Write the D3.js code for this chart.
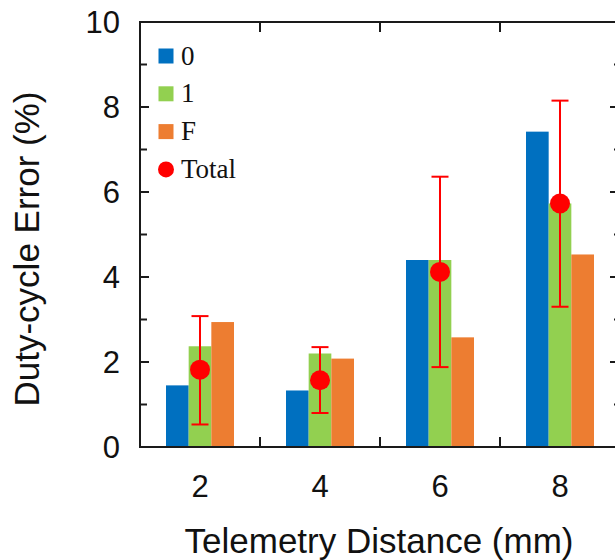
<!DOCTYPE html>
<html><head><meta charset="utf-8">
<script src="https://cdn.jsdelivr.net/npm/d3@7"></script>
<style>body{margin:0;background:#fff}svg{display:block}</style>
</head><body>
<script>
const categories = ["2","4","6","8"];
const seriesNames = ["0","1","F"];
const series0 = [1.45, 1.33, 4.40, 7.42];
const series1 = [2.37, 2.20, 4.40, 5.73];
const seriesF = [2.94, 2.08, 2.58, 4.53];
const totalMean = [1.82, 1.57, 4.12, 5.73];
const totalUpper = [3.08, 2.35, 6.36, 8.15];
const totalLower = [0.53, 0.80, 1.88, 3.30];
const yMajorTicks = [0, 2, 4, 6, 8, 10];
const yMinorTicks = [1, 3, 5, 7, 9];
const colors = ["#0070C0", "#92D050", "#ED7D31"];
const red = "#FF0000";

const W = 615, H = 560;
const L = 140, R = 620, T = 22, B = 447;
const svg = d3.select("body").append("svg").attr("width", W).attr("height", H);

const x = d3.scaleBand().domain(categories).range([L, R]).paddingInner(0).paddingOuter(0);
const y = d3.scaleLinear().domain([0, 10]).range([B, T]);
const groupW = 68;
const xs = d3.scaleBand().domain(seriesNames).range([0, groupW]);

const allSeries = [series0, series1, seriesF];
allSeries.forEach((vals, si) => {
  svg.append("g").selectAll("rect").data(vals).join("rect")
    .attr("x", (d, i) => x(categories[i]) + x.bandwidth()/2 - groupW/2 + xs(seriesNames[si]))
    .attr("width", xs.bandwidth())
    .attr("y", d => y(d))
    .attr("height", d => y(0) - y(d))
    .attr("fill", colors[si]);
});

// error bars
const eg = svg.append("g");
categories.forEach((c, i) => {
  const cx = x(c) + x.bandwidth()/2;
  eg.append("line").attr("x1", cx).attr("x2", cx).attr("y1", y(totalUpper[i])).attr("y2", y(totalLower[i]))
    .attr("stroke", red).attr("stroke-width", 2);
  [totalUpper[i], totalLower[i]].forEach(v => {
    eg.append("line").attr("x1", cx - 8.5).attr("x2", cx + 8.5).attr("y1", y(v)).attr("y2", y(v))
      .attr("stroke", red).attr("stroke-width", 2);
  });
  eg.append("circle").attr("cx", cx).attr("cy", y(totalMean[i])).attr("r", 10).attr("fill", red);
});

// frame and ticks
const axisColor = "#1a1a1a";
const fg = svg.append("g").attr("stroke", axisColor).attr("stroke-width", 2);
fg.append("line").attr("x1", L).attr("x2", L).attr("y1", T - 1).attr("y2", B + 1);
fg.append("line").attr("x1", R).attr("x2", R).attr("y1", T - 1).attr("y2", B + 1);
fg.append("line").attr("x1", L - 1).attr("x2", R + 1).attr("y1", T).attr("y2", T);
fg.append("line").attr("x1", L - 1).attr("x2", R + 1).attr("y1", B).attr("y2", B);

yMajorTicks.forEach(v => {
  fg.append("line").attr("x1", L).attr("x2", L + 9).attr("y1", y(v)).attr("y2", y(v));
  fg.append("line").attr("x1", R).attr("x2", R - 10).attr("y1", y(v)).attr("y2", y(v));
});
yMinorTicks.forEach(v => {
  fg.append("line").attr("x1", L).attr("x2", L + 7).attr("y1", y(v)).attr("y2", y(v));
  fg.append("line").attr("x1", R).attr("x2", R - 6).attr("y1", y(v)).attr("y2", y(v));
});
categories.slice(1).forEach(c => {
  const bx = x(c);
  fg.append("line").attr("x1", bx).attr("x2", bx).attr("y1", T).attr("y2", T + 10);
  fg.append("line").attr("x1", bx).attr("x2", bx).attr("y1", B).attr("y2", B - 10);
});

// tick labels
const sans = "Arial, 'Liberation Sans', sans-serif";
svg.append("g").selectAll("text").data(yMajorTicks).join("text")
  .attr("x", 120).attr("y", d => y(d)).attr("dy", "0.36em")
  .attr("text-anchor", "end").attr("font-family", sans).attr("font-size", 31).attr("fill", "#111")
  .text(d => d);
svg.append("g").selectAll("text").data(categories).join("text")
  .attr("x", d => x(d) + x.bandwidth()/2).attr("y", 497)
  .attr("text-anchor", "middle").attr("font-family", sans).attr("font-size", 31).attr("fill", "#111")
  .text(d => d);

// axis titles
svg.append("text").attr("transform", "translate(39,249) rotate(-90)")
  .attr("text-anchor", "middle").attr("font-family", sans).attr("font-size", 35).attr("fill", "#111")
  .text("Duty-cycle Error (%)");
svg.append("text").attr("x", (L + R)/2 - 1).attr("y", 553)
  .attr("text-anchor", "middle").attr("font-family", sans).attr("font-size", 35).attr("fill", "#111")
  .text("Telemetry Distance (mm)");

// legend
const serif = "'Times New Roman', 'Liberation Serif', serif";
const legendItems = seriesNames.concat(["Total"]);
const lg = svg.append("g");
legendItems.forEach((name, i) => {
  const cy = 56 + i * 37.8;
  if (i < 3) {
    lg.append("rect").attr("x", 158.5).attr("y", cy - 7.5).attr("width", 15).attr("height", 15).attr("fill", colors[i]);
  } else {
    lg.append("circle").attr("cx", 166).attr("cy", cy).attr("r", 8).attr("fill", red);
  }
  lg.append("text").attr("x", 181).attr("y", cy + 8.5)
    .attr("font-family", serif).attr("font-size", 27).attr("fill", "#111").text(name);
});
</script>
</body></html>
